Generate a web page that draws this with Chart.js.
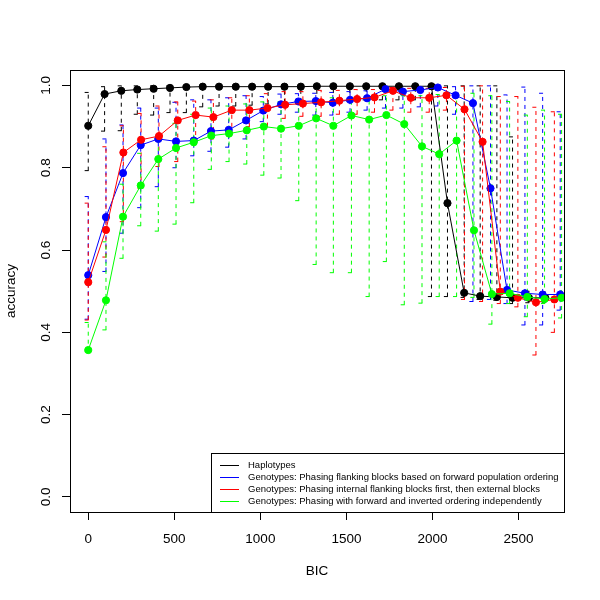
<!DOCTYPE html>
<html>
<head>
<meta charset="utf-8">
<script src="https://cdn.jsdelivr.net/npm/chart.js@4.4.0/dist/chart.umd.min.js"></script>
<style>
  html, body { margin: 0; padding: 0; background: #ffffff; }
  #wrap { width: 600px; height: 600px; }
</style>
</head>
<body>
<div id="wrap"><canvas id="bicChart"></canvas></div>
<script>
// Haplotypes
const hapBic = [0, 95, 192, 285, 380, 475, 570, 665, 760, 857, 952, 1045, 1140, 1235, 1328, 1424, 1520, 1615, 1709, 1805, 1900, 1994, 2087, 2184, 2277, 2374, 2465, 2560, 2655];
const hapAcc = [0.902, 0.979, 0.987, 0.990, 0.992, 0.994, 0.996, 0.997, 0.997, 0.997, 0.997, 0.997, 0.997, 0.997, 0.998, 0.998, 0.998, 0.998, 0.998, 0.998, 0.998, 0.998, 0.714, 0.496, 0.488, 0.486, 0.484, 0.484, 0.484];
const hapLow = [0.793, 0.889, 0.890, 0.930, 0.928, 0.934, 0.934, 0.948, 0.950, 0.950, 0.952, 0.955, 0.958, 0.960, 0.960, 0.962, 0.962, 0.965, 0.965, 0.965, 0.965, 0.487, 0.487, 0.485, 0.480, 0.478, 0.470, 0.472, 0.472];
const hapHigh = [0.983, 0.997, 0.999, 0.999, 0.999, 0.999, 0.999, 0.999, 0.999, 0.999, 0.999, 0.999, 0.999, 0.999, 0.999, 0.999, 0.999, 0.999, 0.999, 0.999, 0.999, 0.999, 0.999, 0.999, 0.999, 0.999, 0.875, 0.500, 0.498];

// Genotypes, forward population ordering
const fwdBic = [0, 103, 202, 305, 407, 510, 613, 713, 816, 917, 1017, 1120, 1221, 1322, 1421, 1521, 1620, 1727, 1828, 1929, 2031, 2134, 2235, 2337, 2433, 2537, 2640, 2742];
const fwdAcc = [0.539, 0.680, 0.787, 0.855, 0.870, 0.864, 0.866, 0.889, 0.892, 0.915, 0.939, 0.954, 0.961, 0.962, 0.958, 0.965, 0.969, 0.991, 0.985, 0.989, 0.995, 0.976, 0.957, 0.750, 0.503, 0.495, 0.492, 0.492];
const fwdLow = [0.432, 0.548, 0.641, 0.703, 0.754, 0.800, 0.829, 0.840, 0.850, 0.870, 0.912, 0.930, 0.935, 0.928, 0.928, 0.935, 0.940, 0.945, 0.945, 0.948, 0.950, 0.930, 0.475, 0.480, 0.470, 0.418, 0.418, 0.454];
const fwdHigh = [0.730, 0.870, 0.904, 0.945, 0.945, 0.959, 0.965, 0.965, 0.970, 0.975, 0.973, 0.979, 0.980, 0.981, 0.983, 0.985, 0.987, 0.995, 0.993, 0.995, 0.998, 0.997, 0.999, 0.999, 0.977, 0.996, 0.981, 0.936];

// Genotypes, internal blocks first
const intBic = [0, 103, 204, 307, 411, 520, 624, 727, 834, 936, 1041, 1144, 1247, 1353, 1459, 1562, 1663, 1770, 1874, 1981, 2081, 2186, 2291, 2394, 2496, 2601, 2708];
const intAcc = [0.522, 0.649, 0.837, 0.868, 0.877, 0.915, 0.928, 0.923, 0.940, 0.940, 0.945, 0.953, 0.956, 0.959, 0.963, 0.967, 0.971, 0.987, 0.970, 0.970, 0.976, 0.942, 0.863, 0.499, 0.484, 0.473, 0.480];
const intLow = [0.430, 0.583, 0.669, 0.750, 0.803, 0.815, 0.860, 0.870, 0.880, 0.900, 0.900, 0.920, 0.925, 0.925, 0.930, 0.930, 0.935, 0.940, 0.935, 0.935, 0.940, 0.480, 0.475, 0.470, 0.462, 0.345, 0.400];
const intHigh = [0.714, 0.851, 0.902, 0.932, 0.950, 0.960, 0.962, 0.965, 0.970, 0.975, 0.980, 0.985, 0.985, 0.988, 0.988, 0.990, 0.990, 0.995, 0.993, 0.993, 0.995, 0.998, 0.999, 0.973, 0.973, 0.947, 0.936];

// Genotypes, forward and inverted independently
const indBic = [0, 103, 202, 305, 407, 510, 613, 715, 818, 921, 1020, 1120, 1223, 1324, 1424, 1529, 1632, 1732, 1836, 1939, 2039, 2140, 2241, 2345, 2448, 2551, 2651, 2750];
const indAcc = [0.357, 0.478, 0.681, 0.757, 0.821, 0.848, 0.862, 0.878, 0.883, 0.891, 0.900, 0.895, 0.902, 0.920, 0.902, 0.927, 0.917, 0.928, 0.906, 0.852, 0.833, 0.866, 0.648, 0.493, 0.495, 0.486, 0.481, 0.484];
const indLow = [0.353, 0.406, 0.580, 0.659, 0.646, 0.663, 0.715, 0.796, 0.815, 0.809, 0.782, 0.775, 0.720, 0.565, 0.545, 0.545, 0.487, 0.572, 0.467, 0.471, 0.487, 0.487, 0.485, 0.420, 0.470, 0.438, 0.470, 0.435];
const indHigh = [0.424, 0.620, 0.760, 0.835, 0.870, 0.908, 0.930, 0.945, 0.950, 0.955, 0.960, 0.960, 0.965, 0.965, 0.970, 0.970, 0.972, 0.975, 0.975, 0.975, 0.978, 0.980, 0.981, 0.975, 0.961, 0.928, 0.940, 0.930];

const seriesNames = [
    'Haplotypes',
    'Genotypes: Phasing flanking blocks based on forward population ordering',
    'Genotypes: Phasing internal flanking blocks first, then external blocks',
    'Genotypes: Phasing with forward and inverted ordering independently'
];
const seriesColors = ['#000000', '#0000ff', '#ff0000', '#00ff00'];
const xTicks = [0, 500, 1000, 1500, 2000, 2500];
const yTicks = [0, 0.2, 0.4, 0.6, 0.8, 1.0];
const yTickLabels = ['0.0', '0.2', '0.4', '0.6', '0.8', '1.0'];

const FONT = '"Liberation Sans", Arial, Helvetica, sans-serif';

function makePoints(xs, ys, lo, hi) {
    return xs.map((x, i) => ({ x: x, y: ys[i], lo: lo[i], hi: hi[i] }));
}

function makeSeries(i, xs, ys, lo, hi) {
    return {
        label: seriesNames[i],
        data: makePoints(xs, ys, lo, hi),
        showLine: true,
        borderColor: seriesColors[i],
        backgroundColor: seriesColors[i],
        borderWidth: 1,
        pointRadius: 3.6,
        pointBorderWidth: 1,
        pointBackgroundColor: seriesColors[i],
        pointBorderColor: seriesColors[i],
        tension: 0,
        order: 4 - i
    };
}

// dashed error bars, R arrows(code = 3, angle = 90) style
const errorBars = {
    id: 'errorBars',
    beforeDatasetsDraw(chart) {
        const c = chart.ctx;
        const xs = chart.scales.x;
        const ys = chart.scales.y;
        c.save();
        c.lineWidth = 1;
        c.setLineDash([4, 4]);
        chart.data.datasets.forEach(ds => {
            c.strokeStyle = ds.borderColor;
            ds.data.forEach(p => {
                const px = xs.getPixelForValue(p.x);
                const top = ys.getPixelForValue(p.hi);
                const bot = ys.getPixelForValue(p.lo);
                c.beginPath();
                c.moveTo(px, bot);
                c.lineTo(px, top);
                c.stroke();
                [top, bot].forEach(py => {
                    c.beginPath();
                    c.moveTo(px - 3.6, py);
                    c.lineTo(px + 3.6, py);
                    c.stroke();
                });
            });
        });
        c.restore();
    }
};

// box, tick labels, axis titles and legend the way R draws them
const rFrame = {
    id: 'rFrame',
    afterDraw(chart) {
        const c = chart.ctx;
        const a = chart.chartArea;
        const xs = chart.scales.x;
        const ys = chart.scales.y;
        c.save();
        c.strokeStyle = '#000';
        c.lineWidth = 1;
        c.setLineDash([]);
        c.strokeRect(Math.round(a.left) + 0.5, Math.round(a.top) + 0.5,
            Math.round(a.right - a.left), Math.round(a.bottom - a.top));

        c.fillStyle = '#000';
        c.font = '13.5px ' + FONT;
        c.textAlign = 'center';
        c.textBaseline = 'middle';
        xTicks.forEach(v => {
            c.fillText(String(v), xs.getPixelForValue(v), a.bottom + 27);
        });
        yTicks.forEach((v, i) => {
            c.save();
            c.translate(a.left - 23.3, ys.getPixelForValue(v));
            c.rotate(-Math.PI / 2);
            c.fillText(yTickLabels[i], 0, 0);
            c.restore();
        });
        c.fillText('BIC', (a.left + a.right) / 2, a.bottom + 59.7);
        c.save();
        c.translate(a.left - 58.6, (a.top + a.bottom) / 2);
        c.rotate(-Math.PI / 2);
        c.fillText('accuracy', 0, 0);
        c.restore();

        // legend, bottom right
        c.font = '9.5px ' + FONT;
        let maxW = 0;
        seriesNames.forEach(n => { maxW = Math.max(maxW, c.measureText(n).width); });
        const rowH = 12.1;
        const boxW = 37 + maxW + 5;
        const boxH = rowH * 4 + 11;
        const bx = Math.round(a.right - boxW);
        const by = Math.round(a.bottom - boxH);
        c.fillStyle = '#fff';
        c.fillRect(bx, by, Math.round(a.right) - bx, Math.round(a.bottom) - by);
        c.strokeRect(bx + 0.5, by + 0.5, Math.round(a.right) - bx, Math.round(a.bottom) - by);
        c.textAlign = 'left';
        seriesNames.forEach((n, i) => {
            const ty = by + 12 + i * rowH;
            c.strokeStyle = seriesColors[i];
            c.beginPath();
            c.moveTo(bx + 9, Math.round(ty) + 0.5);
            c.lineTo(bx + 28, Math.round(ty) + 0.5);
            c.stroke();
            c.fillStyle = '#000';
            c.fillText(n, bx + 37, ty);
        });
        c.restore();
    }
};

const ctx = document.getElementById('bicChart').getContext('2d');
const bicChart = new Chart(ctx, {
    type: 'scatter',
    plugins: [errorBars, rFrame],
    data: {
        datasets: [
            makeSeries(0, hapBic, hapAcc, hapLow, hapHigh),
            makeSeries(1, fwdBic, fwdAcc, fwdLow, fwdHigh),
            makeSeries(2, intBic, intAcc, intLow, intHigh),
            makeSeries(3, indBic, indAcc, indLow, indHigh)
        ]
    },
    options: {
        responsive: true,
        maintainAspectRatio: false,
        animation: false,
        layout: {
            padding: { left: 62, right: 36, top: 70, bottom: 80 }
        },
        scales: {
            x: {
                type: 'linear',
                min: -106,
                max: 2764,
                afterBuildTicks: scale => { scale.ticks = xTicks.map(v => ({ value: v })); },
                ticks: { display: false },
                border: { display: false },
                grid: { drawOnChartArea: false, drawTicks: true, tickLength: 8, color: '#000', lineWidth: 1 }
            },
            y: {
                type: 'linear',
                min: -0.0365,
                max: 1.0375,
                afterBuildTicks: scale => { scale.ticks = yTicks.map(v => ({ value: v })); },
                ticks: { display: false },
                border: { display: false },
                grid: { drawOnChartArea: false, drawTicks: true, tickLength: 8, color: '#000', lineWidth: 1 }
            }
        },
        plugins: {
            legend: { display: false },
            tooltip: { enabled: false }
        }
    }
});
</script>
</body>
</html>
